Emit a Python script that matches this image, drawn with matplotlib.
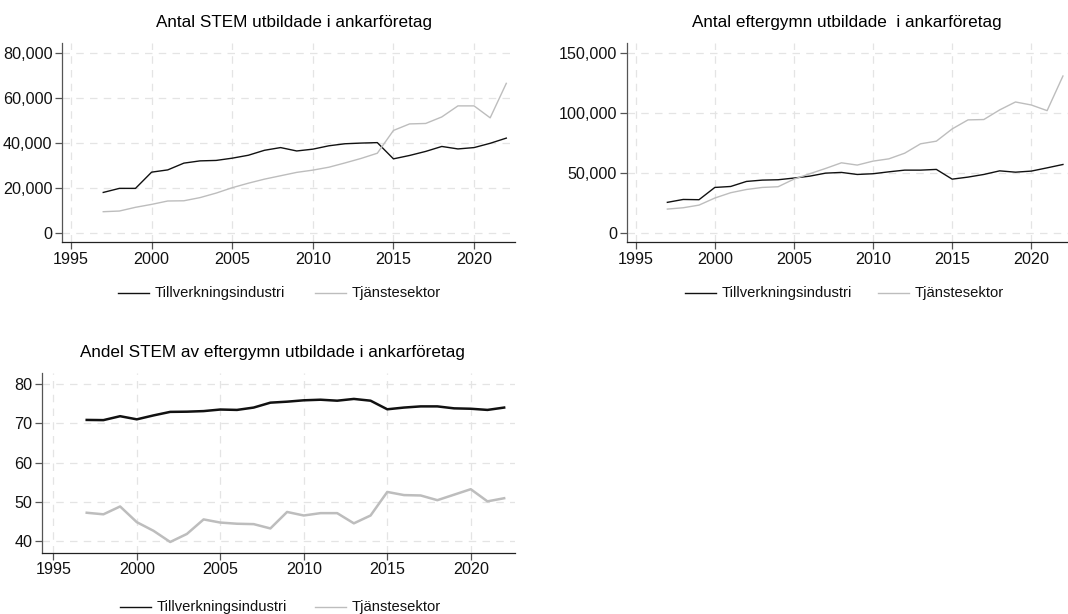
import matplotlib
matplotlib.use("Agg")
import matplotlib.pyplot as plt
from matplotlib.ticker import FuncFormatter
from matplotlib.lines import Line2D

plt.rcParams['font.family'] = ['Liberation Sans', 'DejaVu Sans']

years = list(range(1997, 2023))

# Antal STEM utbildade i ankarföretag
stem_till = [18000, 19800, 19800, 27000, 28000, 31000, 32000, 32200, 33200, 34500,
             36700, 37900, 36400, 37200, 38700, 39600, 39900, 40100, 32900, 34400,
             36200, 38400, 37300, 37900, 39800, 42100]
stem_tjan = [9450, 9750, 11400, 12700, 14200, 14300, 15700, 17700, 20100, 22100,
             23900, 25400, 26900, 27900, 29200, 31100, 33100, 35400, 45500, 48400,
             48600, 51500, 56400, 56400, 51100, 66400]

# Antal eftergymn utbildade i ankarföretag
eg_till = [25500, 27900, 27700, 37900, 38700, 42900, 44000, 44300, 45700, 47300,
           49800, 50400, 48700, 49300, 50900, 52300, 52300, 52900, 44800, 46500,
           48700, 51700, 50600, 51500, 54200, 57000]
eg_tjan = [19900, 21000, 23200, 29100, 33500, 36200, 37900, 38500, 44800, 49300,
           53700, 58400, 56500, 59800, 61700, 66400, 74200, 76400, 86600, 94100,
           94400, 102400, 109000, 106500, 101800, 130600]

# Andel STEM av eftergymn utbildade i ankarföretag
andel_till = [70.85, 70.8, 71.8, 71.0, 72.0, 72.9, 72.95, 73.1, 73.5, 73.4,
              74.0, 75.25, 75.5, 75.85, 76.0, 75.75, 76.2, 75.75, 73.56, 74.0,
              74.3, 74.3, 73.8, 73.7, 73.4, 74.0]
andel_tjan = [47.2, 46.8, 48.8, 44.8, 42.6, 39.75, 41.8, 45.5, 44.7, 44.4,
              44.3, 43.2, 47.4, 46.5, 47.1, 47.1, 44.5, 46.5, 52.5, 51.7,
              51.6, 50.4, 51.8, 53.2, 50.1, 50.9]

titles = ["Antal STEM utbildade i ankarföretag",
          "Antal eftergymn utbildade  i ankarföretag",
          "Andel STEM av eftergymn utbildade i ankarföretag"]
labels = ["Tillverkningsindustri", "Tjänstesektor"]
xticks = [1995, 2000, 2005, 2010, 2015, 2020]

W, H = 1068, 614
fig = plt.figure(figsize=(W / 100, H / 100), dpi=100)
BLACK = "#111111"
GREY = "#bdbdbd"


def px_axes(x0, y0, x1, y1):
    return fig.add_axes([x0 / W, 1 - y1 / H, (x1 - x0) / W, (y1 - y0) / H])


def style(ax, yticks, xlim, ylim, fmt):
    ax.set_xlim(*xlim)
    ax.set_ylim(*ylim)
    ax.set_xticks(xticks)
    ax.set_yticks(yticks)
    ax.yaxis.set_major_formatter(FuncFormatter(fmt))
    for s in ["top", "right"]:
        ax.spines[s].set_visible(False)
    ax.spines["left"].set_color("#555555")
    ax.spines["bottom"].set_color("#222222")
    for s in ["left", "bottom"]:
        ax.spines[s].set_linewidth(0.9)
    ax.tick_params(direction="out", length=5, width=0.9, color="#555555",
                   labelsize=11.6, pad=2, labelcolor="#111111")
    ax.grid(True, color="#e4e4e4", linestyle=(0, (6, 5)), linewidth=0.9)
    ax.set_axisbelow(True)


def thousands(v, pos):
    return f"{int(v):,}"


def legend(y, xs, lw):
    # xs: start of the black and the gray sample line
    for x0, col, lab in zip(xs, [BLACK, GREY], labels):
        fig.add_artist(Line2D([x0 / W, (x0 + 31) / W], [1 - y / H, 1 - y / H],
                              color=col, lw=lw))
        fig.text((x0 + 37) / W, 1 - y / H, lab, fontsize=10.6, va="center",
                 ha="left", color="#111111")


# panel 1
ax1 = px_axes(62.3, 43, 515, 242)
ax1.plot(years, stem_till, color=BLACK, lw=1.0)
ax1.plot(years, stem_tjan, color=GREY, lw=1.0)
style(ax1, [0, 20000, 40000, 60000, 80000], (1994.46, 2022.54), (-3990, 84300), thousands)
fig.text(294 / W, 1 - 22 / H, titles[0], fontsize=12.3, ha="center", va="center")
legend(292.5, (118, 315), 1.0)

# panel 2
ax2 = px_axes(626.7, 43, 1068, 242)
ax2.plot(years, eg_till, color=BLACK, lw=1.0)
ax2.plot(years, eg_tjan, color=GREY, lw=1.0)
style(ax2, [0, 50000, 100000, 150000], (1994.43, 2022.32), (-7490, 158070), thousands)
fig.text(847 / W, 1 - 22 / H, titles[1], fontsize=12.3, ha="center", va="center")
legend(292.5, (685, 878), 1.0)

# panel 3
ax3 = px_axes(42.3, 373.3, 515, 552.7)
ax3.plot(years, andel_till, color=BLACK, lw=1.8)
ax3.plot(years, andel_tjan, color=GREY, lw=1.8)
style(ax3, [40, 50, 60, 70, 80], (1994.34, 2022.65), (37.02, 82.73), lambda v, p: f"{int(v)}")
fig.text(272 / W, 1 - 352 / H, titles[2], fontsize=12.3, ha="center", va="center")
legend(606.5, (120, 315), 1.0)

fig.savefig("out.png", dpi=100, facecolor="white")
